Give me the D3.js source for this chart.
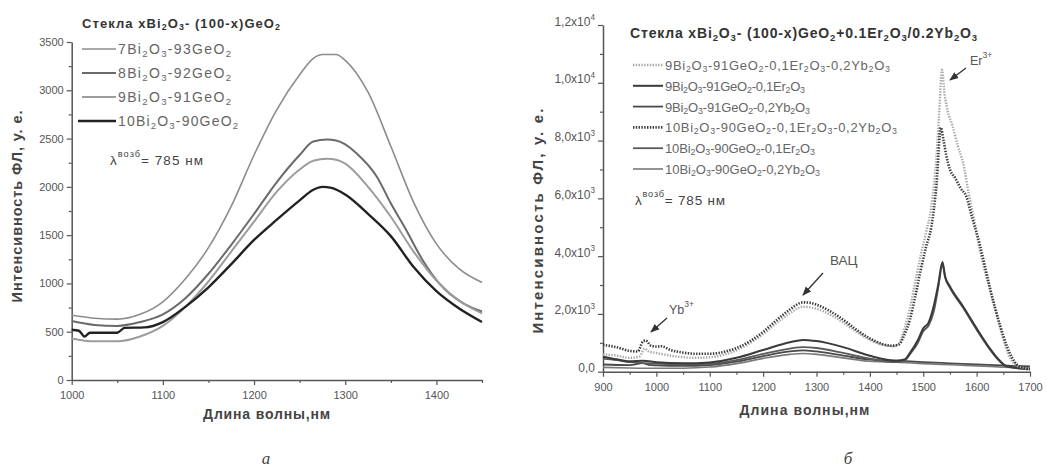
<!DOCTYPE html>
<html>
<head>
<meta charset="utf-8">
<script src="https://cdn.jsdelivr.net/npm/d3@7"></script>
<style>
  html, body { margin: 0; padding: 0; background: #fff; }
  svg { display: block; font-family: "Liberation Sans", Arial, sans-serif; }
</style>
</head>
<body>
<svg id="fig" width="1047" height="469"></svg>
<script>
// ---------- Panel (а): xBi2O3-(100-x)GeO2 glasses ----------
const bi7 = [[1000,670],[1025,640],[1050,630],[1075,680],[1100,810],[1125,1050],[1150,1370],[1175,1800],[1200,2330],[1225,2800],[1250,3160],[1265,3330],[1275,3370],[1290,3370],[1300,3310],[1325,2980],[1350,2420],[1375,1840],[1400,1410],[1425,1150],[1450,1010]];
const bi8 = [[1000,610],[1025,570],[1050,560],[1075,600],[1100,680],[1125,850],[1150,1100],[1175,1400],[1200,1720],[1225,2050],[1250,2330],[1265,2470],[1280,2490],[1290,2480],[1300,2440],[1312,2350],[1335,2100],[1350,1830],[1367,1550],[1385,1240],[1403,1000],[1430,790],[1450,710]];
const bi9 = [[1000,430],[1025,400],[1050,400],[1075,450],[1100,560],[1125,760],[1150,1020],[1175,1330],[1200,1640],[1225,1950],[1250,2180],[1265,2270],[1280,2290],[1290,2280],[1300,2240],[1325,2000],[1350,1690],[1375,1330],[1400,1030],[1425,820],[1450,690]];
const bi10 = [[1000,520],[1008,510],[1014,450],[1020,490],[1050,490],[1058,540],[1080,545],[1100,600],[1125,760],[1150,960],[1175,1200],[1200,1450],[1225,1660],[1250,1860],[1265,1970],[1275,2000],[1285,1990],[1300,1920],[1325,1720],[1350,1490],[1375,1170],[1400,920],[1425,740],[1450,600]];

const leftNames = ["7Bi_2O_3-93GeO_2", "8Bi_2O_3-92GeO_2", "9Bi_2O_3-91GeO_2", "10Bi_2O_3-90GeO_2"];
const leftData = [bi7, bi8, bi9, bi10];
const leftXTicks = [1000, 1100, 1200, 1300, 1400];
const leftYTicks = [0, 500, 1000, 1500, 2000, 2500, 3000, 3500];

// ---------- Panel (б): Er/Yb doped glasses ----------
const erYb9 = [[900,600],[925,560],[950,480],[968,520],[978,800],[986,700],[1000,650],[1025,560],[1050,500],[1075,480],[1100,500],[1125,580],[1150,740],[1175,980],[1200,1300],[1225,1680],[1250,2020],[1275,2250],[1300,2180],[1325,1980],[1350,1700],[1375,1380],[1400,1100],[1425,930],[1445,880],[1455,1000],[1465,1500],[1475,2200],[1485,3100],[1495,4000],[1505,4800],[1515,5700],[1525,7500],[1530,9000],[1535,10450],[1540,9600],[1546,9000],[1555,8500],[1565,7800],[1575,7200],[1585,6200],[1595,5300],[1605,4300],[1615,3500],[1627,2700],[1640,1800],[1652,1000],[1663,450],[1675,220],[1688,130],[1700,100]];
const er9 = [[900,520],[925,430],[950,360],[975,380],[1000,330],[1050,290],[1100,320],[1150,480],[1200,750],[1250,1020],[1275,1100],[1300,1060],[1350,850],[1400,550],[1450,380],[1465,420],[1475,650],[1490,1100],[1500,1500],[1510,1700],[1520,2300],[1528,3000],[1536,3800],[1541,3300],[1550,2950],[1575,2250],[1600,1500],[1625,800],[1640,450],[1655,200],[1680,120],[1700,100]];
const yb9 = [[900,250],[950,230],[975,300],[985,240],[1000,220],[1050,200],[1100,230],[1150,350],[1200,540],[1250,700],[1275,740],[1300,700],[1350,560],[1400,420],[1450,380],[1500,330],[1550,290],[1600,250],[1650,215],[1700,180]];
const erYb10 = [[900,930],[925,850],[950,720],[965,700],[975,1050],[980,1080],[990,900],[1000,870],[1010,880],[1025,760],[1050,660],[1075,620],[1100,620],[1125,680],[1150,820],[1175,1050],[1200,1380],[1225,1780],[1250,2150],[1275,2400],[1290,2380],[1300,2320],[1325,2100],[1350,1800],[1375,1450],[1400,1150],[1425,950],[1440,900],[1455,950],[1465,1300],[1475,1800],[1485,2600],[1495,3500],[1505,4300],[1515,5000],[1525,6500],[1533,8450],[1538,8000],[1543,7500],[1550,7000],[1560,6700],[1570,6350],[1581,6050],[1592,5300],[1606,4400],[1615,3700],[1625,2900],[1644,1600],[1657,870],[1675,250],[1688,120],[1700,80]];
const er10 = [[900,450],[925,400],[950,330],[1000,280],[1050,250],[1100,270],[1150,400],[1200,620],[1250,800],[1275,850],[1300,820],[1350,650],[1400,450],[1450,330],[1465,380],[1475,600],[1490,1000],[1500,1400],[1510,1600],[1520,2100],[1528,2900],[1536,3700],[1541,3250],[1550,2900],[1575,2200],[1600,1450],[1625,760],[1640,420],[1655,190],[1680,110],[1700,90]];
const yb10 = [[900,150],[950,130],[1000,120],[1050,120],[1100,160],[1150,280],[1200,460],[1250,600],[1275,630],[1300,600],[1350,480],[1400,360],[1450,330],[1500,280],[1550,240],[1600,200],[1650,160],[1700,120]];

const rightNames = [
  "9Bi_2O_3-91GeO_2-0,1Er_2O_3-0,2Yb_2O_3",
  "9Bi_2O_3-91GeO_2-0,1Er_2O_3",
  "9Bi_2O_3-91GeO_2-0,2Yb_2O_3",
  "10Bi_2O_3-90GeO_2-0,1Er_2O_3-0,2Yb_2O_3",
  "10Bi_2O_3-90GeO_2-0,1Er_2O_3",
  "10Bi_2O_3-90GeO_2-0,2Yb_2O_3"
];
const rightData = [erYb9, er9, yb9, erYb10, er10, yb10];
const rightXTicks = [900, 1000, 1100, 1200, 1300, 1400, 1500, 1600, 1700];
const rightYTicks = [0, 2000, 4000, 6000, 8000, 10000, 12000];
const rightYLabels = ["0,0", "2,0x10^3", "4,0x10^3", "6,0x10^3", "8,0x10^3", "1,0x10^4", "1,2x10^4"];

// ---------- helpers ----------
const svg = d3.select("#fig");

// Writes text with _x / _{..} subscripts and ^x / ^{..} superscripts as tspans
function rich(textSel, str, size) {
  textSel.text(null);
  const re = /([_^])(\{[^}]*\}|.)/g;
  let last = 0, cur = 0, m;
  const pieces = [];
  while ((m = re.exec(str)) !== null) {
    if (m.index > last) pieces.push({t: str.slice(last, m.index), k: "n"});
    let v = m[2];
    if (v[0] === "{") v = v.slice(1, -1);
    pieces.push({t: v, k: m[1] === "_" ? "sub" : "sup"});
    last = re.lastIndex;
  }
  if (last < str.length) pieces.push({t: str.slice(last), k: "n"});
  pieces.forEach(p => {
    const target = p.k === "sub" ? size * 0.3 : p.k === "sup" ? -size * 0.45 : 0;
    const ts = textSel.append("tspan").text(p.t).attr("dy", (target - cur).toFixed(2));
    if (p.k !== "n") ts.attr("font-size", (size * 0.68).toFixed(2));
    cur = target;
  });
}

// Spreads letters so the text occupies the given width
function fitWidth(t, width) {
  const node = t.node();
  const w = node.getComputedTextLength();
  const n = node.textContent.length;
  if (n > 1) t.attr("letter-spacing", ((width - w) / (n - 1)).toFixed(3));
}

function addText(x, y, str, opts = {}) {
  const size = opts.size || 12;
  const t = svg.append("text")
    .attr("x", x).attr("y", y)
    .attr("font-size", size)
    .attr("fill", opts.fill || "#333")
    .attr("font-weight", opts.weight || "normal")
    .attr("text-anchor", opts.anchor || "start")
    .attr("dominant-baseline", "central");
  if (opts.style) t.attr("font-style", opts.style);
  if (opts.family) t.attr("font-family", opts.family);
  if (opts.transform) t.attr("transform", opts.transform);
  rich(t, str, size);
  if (opts.width) fitWidth(t, opts.width);
  return t;
}

function range(a, b, s) { return d3.range(a, b + s / 2, s); }

function drawAxes(g, x, y, xTicks, yTicks, xMinor, yMinor, yFmt, ySize) {
  const axisColor = "#555";
  const xAx = g.append("g").attr("transform", `translate(0,${y.range()[0]})`)
    .call(d3.axisBottom(x).tickValues(xTicks).tickSize(5).tickSizeOuter(0).tickFormat(d3.format("d")));
  const xMin = g.append("g").attr("transform", `translate(0,${y.range()[0]})`)
    .call(d3.axisBottom(x).tickValues(xMinor).tickSize(3).tickFormat(""));
  const yAx = g.append("g").attr("transform", `translate(${x.range()[0]},0)`)
    .call(d3.axisLeft(y).tickValues(yTicks).tickSize(5).tickSizeOuter(0).tickFormat(d3.format("d")));
  const yMin = g.append("g").attr("transform", `translate(${x.range()[0]},0)`)
    .call(d3.axisLeft(y).tickValues(yMinor).tickSize(3).tickFormat(""));
  [xMin, yMin].forEach(a => a.select(".domain").remove());
  [xAx, yAx, xMin, yMin].forEach(a => {
    a.selectAll("line").attr("stroke", axisColor).attr("stroke-width", 1.2);
    a.selectAll(".domain").attr("stroke", axisColor).attr("stroke-width", 1.5);
    a.selectAll("text").attr("font-family", "Liberation Sans, Arial, sans-serif")
      .attr("font-size", 11).attr("fill", "#555");
  });
  xAx.selectAll("text").attr("dy", "1.0em");
  if (yFmt) {
    yAx.selectAll(".tick text").attr("font-size", ySize).each(function(d, i) { rich(d3.select(this), yFmt[i], ySize); });
  }
  return {xAx, yAx};
}

const line = (x, y) => d3.line().x(d => x(d[0])).y(d => y(d[1])).curve(d3.curveMonotoneX);

// ---------- panel (а) ----------
const xL = d3.scaleLinear().domain([1000, 1450]).range([71.7, 482]);
const yL = d3.scaleLinear().domain([0, 3500]).range([380, 42]);
const gL = svg.append("g");
drawAxes(gL, xL, yL, leftXTicks, leftYTicks, range(1050, 1450, 100), range(250, 3250, 500));

const leftStyle = [
  {c: "#8c8c8c", w: 1.6},
  {c: "#6a6a6a", w: 2.0},
  {c: "#9c9c9c", w: 2.0},
  {c: "#222222", w: 2.4}
];
leftData.forEach((s, i) => {
  gL.append("path").datum(s).attr("d", line(xL, yL))
    .attr("fill", "none").attr("stroke", leftStyle[i].c).attr("stroke-width", leftStyle[i].w)
    .attr("stroke-linejoin", "round");
});

addText(82, 23, "Стекла xBi_2O_3- (100-x)GeO_2", {size: 13, weight: "bold", fill: "#333", width: 198});
leftNames.forEach((n, i) => {
  const yy = 49 + i * 24;
  svg.append("line").attr("x1", i === 3 ? 78 : 82).attr("x2", 116).attr("y1", yy).attr("y2", yy)
    .attr("stroke", leftStyle[i].c).attr("stroke-width", leftStyle[i].w);
  addText(118, yy, n, {size: 14, fill: "#666", width: i === 3 ? 120 : 113});
});
addText(110, 160, "λ^{возб}= 785 нм", {size: 13.5, fill: "#444", width: 93});
addText(267, 414, "Длина волны,нм", {size: 14, weight: "bold", anchor: "middle", fill: "#444", width: 127});
addText(17, 206, "Интенсивность ФЛ, у. е.", {size: 14.5, weight: "bold", anchor: "middle", fill: "#444", transform: "rotate(-90,17,206)", width: 192});
addText(266, 458, "а", {size: 17, style: "italic", anchor: "middle", fill: "#444", family: "Liberation Serif, serif"});

// ---------- panel (б) ----------
const xR = d3.scaleLinear().domain([900, 1700]).range([603, 1030]);
const yR = d3.scaleLinear().domain([0, 12000]).range([371.7, 25]);
const gR = svg.append("g");
drawAxes(gR, xR, yR, rightXTicks, rightYTicks, range(950, 1650, 100), range(1000, 11000, 2000), rightYLabels, 12);

const rightStyle = [
  {c: "#a8a8a8", w: 2.4, dash: "1.4,1.4"},
  {c: "#3a3a3a", w: 2.0},
  {c: "#4a4a4a", w: 1.8},
  {c: "#3a3a3a", w: 2.6, dash: "1.4,1.4"},
  {c: "#5a5a5a", w: 1.8},
  {c: "#7a7a7a", w: 1.6}
];
// solid series first, dotted ones on top
[2, 5, 4, 1, 0, 3].forEach(i => {
  const p = gR.append("path").datum(rightData[i]).attr("d", line(xR, yR))
    .attr("fill", "none").attr("stroke", rightStyle[i].c).attr("stroke-width", rightStyle[i].w)
    .attr("stroke-linejoin", "round");
  if (rightStyle[i].dash) p.attr("stroke-dasharray", rightStyle[i].dash);
});

addText(630, 33, "Стекла xBi_2O_3- (100-x)GeO_2+0.1Er_2O_3/0.2Yb_2O_3", {size: 14, weight: "bold", fill: "#333", width: 347});
const rightWidths = [225, 140, 145, 232, 150, 155];
rightNames.forEach((n, i) => {
  const yy = 65 + i * 20.8;
  const l = svg.append("line").attr("x1", 633).attr("x2", 663).attr("y1", yy).attr("y2", yy)
    .attr("stroke", rightStyle[i].c).attr("stroke-width", rightStyle[i].w);
  if (rightStyle[i].dash) l.attr("stroke-dasharray", rightStyle[i].dash);
  addText(665, yy, n, {size: 13, fill: "#666", width: rightWidths[i]});
});
addText(635, 200, "λ^{возб}= 785 нм", {size: 13.5, fill: "#444", width: 90});
addText(805, 410, "Длина волны,нм", {size: 14, weight: "bold", anchor: "middle", fill: "#444", width: 130});
addText(537, 220, "Интенсивность ФЛ, у. е.", {size: 15, weight: "bold", anchor: "middle", fill: "#444", transform: "rotate(-90,537,220)", width: 225});
addText(848, 458, "б", {size: 17, style: "italic", anchor: "middle", fill: "#444", family: "Liberation Serif, serif"});

// annotations with arrows
svg.append("defs").append("marker").attr("id", "arr").attr("viewBox", "0 0 10 10")
  .attr("refX", 9).attr("refY", 5).attr("markerWidth", 7).attr("markerHeight", 7)
  .attr("orient", "auto-start-reverse")
  .append("path").attr("d", "M0,1 L10,5 L0,9 z").attr("fill", "#333");
function arrow(x1, y1, x2, y2) {
  svg.append("line").attr("x1", x1).attr("y1", y1).attr("x2", x2).attr("y2", y2)
    .attr("stroke", "#333").attr("stroke-width", 1.3).attr("marker-end", "url(#arr)");
}
addText(970, 61, "Er^{3+}", {size: 12.5, fill: "#555"});
arrow(966, 68, 950, 80);
addText(830, 260, "ВАЦ", {size: 13.5, fill: "#555"});
arrow(823, 273, 803, 295);
addText(669, 310, "Yb^{3+}", {size: 12.5, fill: "#555"});
arrow(667, 318, 651, 332);
</script>
</body>
</html>
